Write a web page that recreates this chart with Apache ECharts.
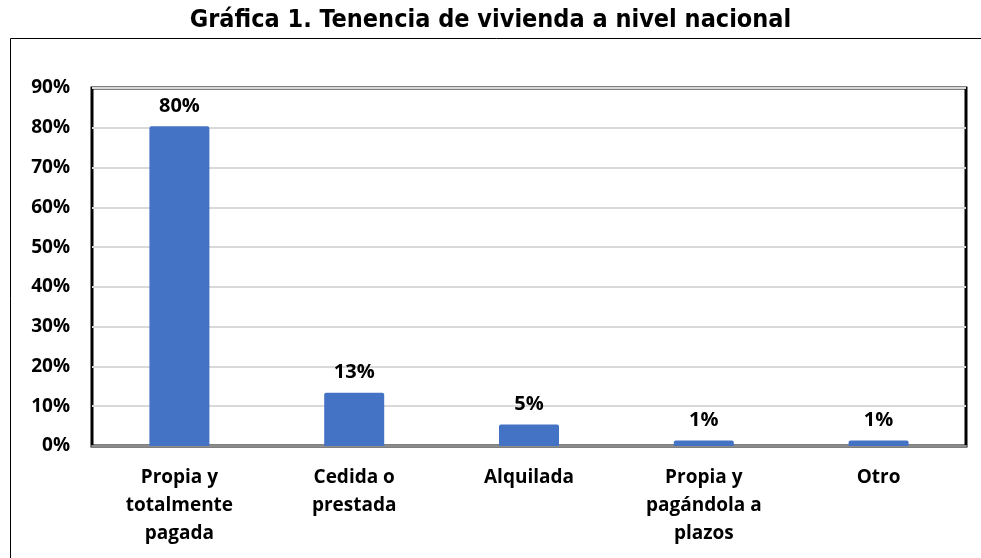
<!DOCTYPE html>
<html>
<head>
<meta charset="utf-8">
<script src="https://cdn.jsdelivr.net/npm/echarts@6/dist/echarts.min.js"></script>
<style>
  html, body { margin: 0; padding: 0; background: #fff; }
  #chart { width: 981px; height: 558px; }
</style>
</head>
<body>
<div id="chart"></div>
<script>
// categorías y porcentajes
const categories = ['Propia y\ntotalmente\npagada', 'Cedida o\nprestada', 'Alquilada', 'Propia y\npagándola a\nplazos', 'Otro']
const values = [80.4, 13.4, 5.4, 1.4, 1.4]
const yTicks = [0, 10, 20, 30, 40, 50, 60, 70, 80, 90]

const chart = echarts.init(document.getElementById('chart'))
const option = {
  animation: false,
  title: {
    text: 'Gráfica 1. Tenencia de vivienda a nivel nacional',
    left: 'center',
    top: 3,
    textStyle: {
      fontFamily: 'DejaVu Sans Condensed, DejaVu Sans',
      fontWeight: 'bold',
      fontSize: 25,
      color: '#000',
    },
  },
  // marco exterior
  graphic: [{
    type: 'rect',
    shape: { x: 10.5, y: 38.5, width: 990, height: 540 },
    style: { fill: 'none', stroke: '#000', lineWidth: 1 },
    z: -1,
  }],
  grid: {
    left: 92,
    right: 15,
    top: 88,
    bottom: 112,
    show: true,
    borderColor: '#000',
    borderWidth: 3,
  },
  xAxis: {
    type: 'category',
    data: categories,
    axisLine: { lineStyle: { color: '#8c8c8c', width: 2 } },
    axisTick: { show: false },
    axisLabel: {
      interval: 0,
      margin: 18,
      color: '#000',
      fontFamily: 'Open Sans',
      fontWeight: 'bold',
      fontSize: 19,
      lineHeight: 28,
    },
  },
  yAxis: {
    type: 'value',
    min: 0,
    max: 90,
    interval: 10,
    axisLine: { show: false },
    axisTick: { show: false },
    splitLine: { lineStyle: { color: '#d9d9d9', width: 2 } },
    axisLabel: {
      margin: 22,
      color: '#000',
      fontFamily: 'Open Sans',
      fontWeight: 'bold',
      fontSize: 19,
      formatter: (v) => (yTicks.includes(v) ? v + '%' : ''),
    },
  },
  series: [{
    type: 'bar',
    data: values,
    barWidth: 60,
    itemStyle: { color: '#4472c4', borderRadius: [2, 2, 0, 0] },
    label: {
      show: true,
      position: 'top',
      distance: 10,
      color: '#000',
      fontFamily: 'Open Sans',
      fontWeight: 'bold',
      fontSize: 20,
      formatter: (p) => Math.round(p.value) + '%',
    },
  }],
}
chart.setOption(option)
</script>
</body>
</html>
